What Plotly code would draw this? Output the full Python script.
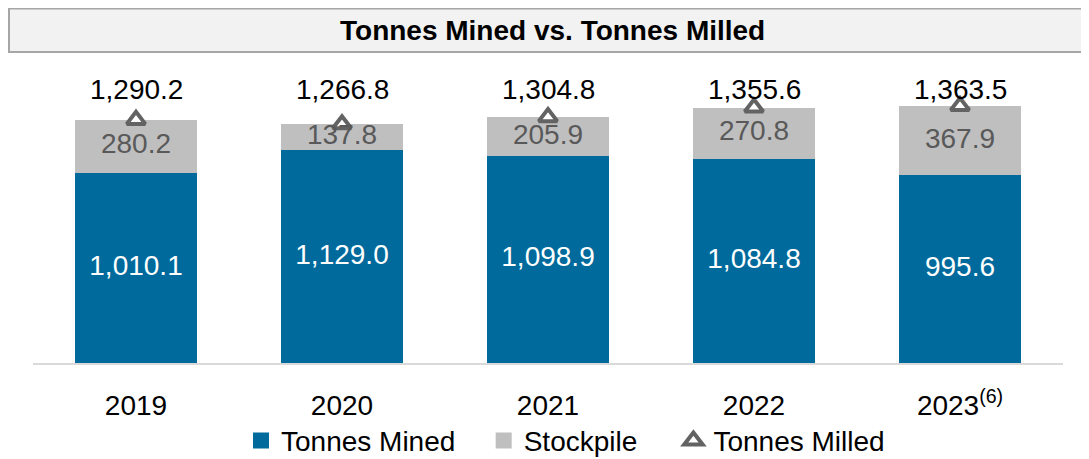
import plotly.graph_objects as go

# ---- data ----
years = ["2019", "2020", "2021", "2022", "2023"]
tick_labels = ["2019", "2020", "2021", "2022", "2023<sup>(6)</sup>"]
tonnes_mined = [1010.1, 1129.0, 1098.9, 1084.8, 995.6]
stockpile = [280.2, 137.8, 205.9, 270.8, 367.9]
tonnes_milled = [1290.2, 1266.8, 1304.8, 1355.6, 1363.5]

BLUE = "#006a9c"
GREY = "#bfbfbf"
TRI = "#636363"
FONT = "Liberation Sans, Arial, sans-serif"
NB = "\u00a0"

def fmt(v):
    return f"{v:,.1f}"

fig = go.Figure()

fig.add_trace(go.Bar(
    x=years, y=tonnes_mined, name="Tonnes Mined", showlegend=False,
    marker=dict(color=BLUE, line=dict(width=0)),
))
fig.add_trace(go.Bar(
    x=years, y=stockpile, name="Stockpile", showlegend=False,
    marker=dict(color=GREY, line=dict(width=0)),
))
fig.add_trace(go.Scatter(
    x=years, y=tonnes_milled, name="Tonnes Milled", mode="markers", showlegend=False,
    marker=dict(symbol="triangle-up", size=16, color="white",
                line=dict(width=4, color=TRI)),
))

# inner labels (centred in each segment)
fig.add_trace(go.Scatter(
    x=years, y=[m / 2 for m in tonnes_mined], mode="text",
    text=[fmt(v) for v in tonnes_mined],
    textfont=dict(color="white", size=28, family=FONT),
    showlegend=False, hoverinfo="skip",
))
fig.add_trace(go.Scatter(
    x=years, y=[m + s / 2 for m, s in zip(tonnes_mined, stockpile)], mode="text",
    text=[fmt(v) for v in stockpile],
    textfont=dict(color="#595959", size=28, family=FONT),
    showlegend=False, hoverinfo="skip",
))

# legend entries (larger symbols than the default bar icons)
fig.add_trace(go.Scatter(
    x=[None], y=[None], mode="markers", name="Tonnes Mined" + NB * 3,
    marker=dict(symbol="square", size=20, color=BLUE),
))
fig.add_trace(go.Scatter(
    x=[None], y=[None], mode="markers", name="Stockpile" + NB * 4,
    marker=dict(symbol="square", size=20, color=GREY),
))
fig.add_trace(go.Scatter(
    x=[None], y=[None], mode="markers", name="Tonnes Milled",
    marker=dict(symbol="triangle-up", size=20, color="white",
                line=dict(width=4, color=TRI)),
))

annotations = []
for i, v in enumerate(tonnes_milled):
    annotations.append(dict(
        x=i, xref="x", y=0.904, yref="paper", text=fmt(v), showarrow=False,
        font=dict(size=28, color="black", family=FONT),
        xanchor="center", yanchor="middle",
    ))
annotations.append(dict(
    x=0.504, xref="paper", y=1.099, yref="paper",
    text="<b>Tonnes Mined vs. Tonnes Milled</b>", showarrow=False,
    font=dict(size=28, color="black", family=FONT),
    xanchor="center", yanchor="middle",
))

fig.update_layout(
    width=1081, height=451,
    margin=dict(l=25, r=26, t=52, b=96, pad=0, autoexpand=False),
    paper_bgcolor="white", plot_bgcolor="white",
    barmode="stack", bargap=0.408,
    font=dict(family=FONT, size=28, color="black"),
    showlegend=True,
    legend=dict(orientation="h", x=0.517, xanchor="center", y=-0.257,
                yanchor="middle", font=dict(size=28, color="black", family=FONT),
                traceorder="normal", itemwidth=30, bgcolor="rgba(0,0,0,0)"),
    annotations=annotations,
    shapes=[dict(type="rect", xref="paper", yref="paper",
                 x0=-0.0233, x1=1.03, y0=1.0264, y1=1.170,
                 fillcolor="#f2f2f2", line=dict(color="#a6a6a6", width=2),
                 layer="below")],
    hovermode=False,
)
fig.update_xaxes(
    type="category", categoryorder="array", categoryarray=years,
    range=[-0.5, 4.5],
    tickmode="array", tickvals=years, ticktext=tick_labels, tickangle=0,
    showline=True, linecolor="#d9d9d9", linewidth=2, automargin=False,
    showgrid=False, zeroline=False, ticks="", ticklabelstandoff=16,
    tickfont=dict(size=28, color="black", family=FONT),
)
fig.update_yaxes(range=[0, 1608], visible=False, showgrid=False, zeroline=False)

fig.write_html("out.html")
